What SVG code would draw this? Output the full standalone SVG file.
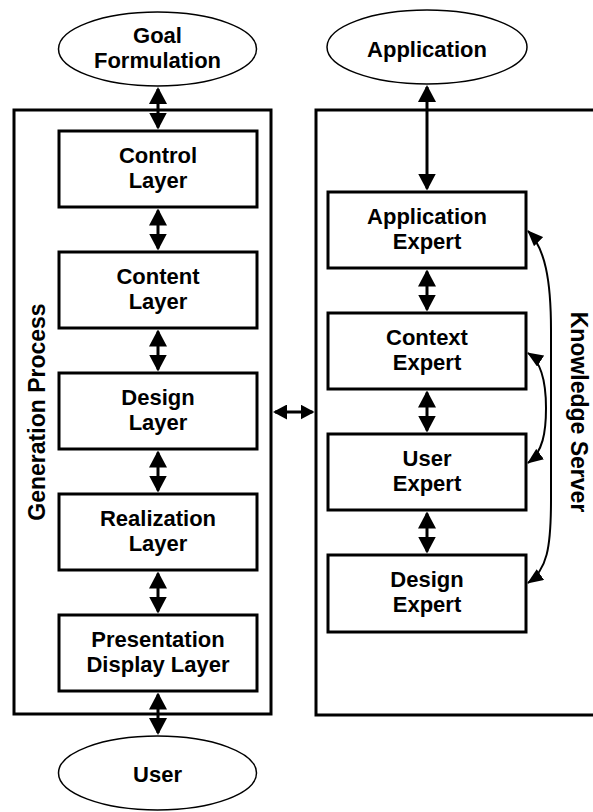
<svg xmlns="http://www.w3.org/2000/svg" width="593" height="812" viewBox="0 0 593 812">
<defs>
<style>
.box{fill:#fff;stroke:#000;stroke-width:3}
.frame{fill:none;stroke:#000;stroke-width:3}
.ell{fill:#fff;stroke:#000;stroke-width:1.5}
.t{font-family:"Liberation Sans",Arial,Helvetica,sans-serif;font-weight:bold;font-size:22px;text-anchor:middle;fill:#000}
.tr{font-size:23px}
.lnk{fill:none;stroke:#000;stroke-width:3}
.crv{fill:none;stroke:#000;stroke-width:2}
</style>
<marker id="ah" markerUnits="userSpaceOnUse" markerWidth="17" markerHeight="18" refX="15" refY="9" orient="auto-start-reverse" viewBox="0 0 17 18">
<path d="M0,0 L17,9 L0,18 z" fill="#000"/>
</marker>
<marker id="ahs" markerUnits="userSpaceOnUse" markerWidth="14" markerHeight="15" refX="12" refY="7.5" orient="auto-start-reverse" viewBox="0 0 14 15">
<path d="M0,0 L14,7.5 L0,15 z" fill="#000"/>
</marker>
<marker id="ahc" markerUnits="userSpaceOnUse" markerWidth="16" markerHeight="13" refX="15" refY="6.5" orient="auto-start-reverse" viewBox="0 0 16 13">
<path d="M0,0 L16,6.5 L0,13 z" fill="#000"/>
</marker>
</defs>
<g id="generation-process">
<rect class="frame" x="14" y="110" width="257" height="604"/>
<text class="t tr" transform="translate(45,412) rotate(-90)" x="0" y="0">Generation Process</text>
</g>
<g id="knowledge-server">
<path class="frame" d="M593,110 L316,110 L316,715 L593,715"/>
<text class="t tr" transform="translate(571,412) rotate(90)" x="0" y="0">Knowledge Server</text>
</g>
<g id="goal-formulation">
<ellipse class="ell" cx="157.5" cy="49" rx="99" ry="37"/>
<text class="t" x="157.5" y="42.5">Goal</text>
<text class="t" x="157.5" y="67.5">Formulation</text>
</g>
<g id="application">
<ellipse class="ell" cx="427" cy="47" rx="100" ry="37"/>
<text class="t" x="427" y="57">Application</text>
</g>
<g id="user">
<ellipse class="ell" cx="157.5" cy="773" rx="99" ry="37"/>
<text class="t" x="157.5" y="782">User</text>
</g>
<g id="control-layer">
<rect class="box" x="59" y="131" width="198" height="76"/>
<text class="t" x="158" y="163">Control</text>
<text class="t" x="158" y="188">Layer</text>
</g>
<g id="content-layer">
<rect class="box" x="59" y="252" width="198" height="76"/>
<text class="t" x="158" y="284">Content</text>
<text class="t" x="158" y="309">Layer</text>
</g>
<g id="design-layer">
<rect class="box" x="59" y="373" width="198" height="76"/>
<text class="t" x="158" y="405">Design</text>
<text class="t" x="158" y="430">Layer</text>
</g>
<g id="realization-layer">
<rect class="box" x="59" y="494" width="198" height="76"/>
<text class="t" x="158" y="526">Realization</text>
<text class="t" x="158" y="551">Layer</text>
</g>
<g id="presentation-display-layer">
<rect class="box" x="59" y="615" width="198" height="76"/>
<text class="t" x="158" y="647">Presentation</text>
<text class="t" x="158" y="672">Display Layer</text>
</g>
<g id="application-expert">
<rect class="box" x="328" y="192" width="198" height="76"/>
<text class="t" x="427" y="224">Application</text>
<text class="t" x="427" y="249">Expert</text>
</g>
<g id="context-expert">
<rect class="box" x="328" y="313" width="198" height="76"/>
<text class="t" x="427" y="345">Context</text>
<text class="t" x="427" y="370">Expert</text>
</g>
<g id="user-expert">
<rect class="box" x="328" y="434" width="198" height="76"/>
<text class="t" x="427" y="466">User</text>
<text class="t" x="427" y="491">Expert</text>
</g>
<g id="design-expert">
<rect class="box" x="328" y="555" width="198" height="77"/>
<text class="t" x="427" y="587">Design</text>
<text class="t" x="427" y="612">Expert</text>
</g>
<g id="connectors">
<line class="lnk" x1="158" y1="89" x2="158" y2="127.5" marker-start="url(#ah)" marker-end="url(#ah)"/>
<line class="lnk" x1="158" y1="210.5" x2="158" y2="248.5" marker-start="url(#ah)" marker-end="url(#ah)"/>
<line class="lnk" x1="158" y1="331.5" x2="158" y2="369.5" marker-start="url(#ah)" marker-end="url(#ah)"/>
<line class="lnk" x1="158" y1="452.5" x2="158" y2="490.5" marker-start="url(#ah)" marker-end="url(#ah)"/>
<line class="lnk" x1="158" y1="573.5" x2="158" y2="611.5" marker-start="url(#ah)" marker-end="url(#ah)"/>
<line class="lnk" x1="158" y1="694.5" x2="158" y2="733" marker-start="url(#ah)" marker-end="url(#ah)"/>
<line class="lnk" x1="427" y1="87" x2="427" y2="188.5" marker-start="url(#ah)" marker-end="url(#ah)"/>
<line class="lnk" x1="427" y1="271.5" x2="427" y2="309.5" marker-start="url(#ah)" marker-end="url(#ah)"/>
<line class="lnk" x1="427" y1="392.5" x2="427" y2="430.5" marker-start="url(#ah)" marker-end="url(#ah)"/>
<line class="lnk" x1="427" y1="513.5" x2="427" y2="551.5" marker-start="url(#ah)" marker-end="url(#ah)"/>
<line class="lnk" x1="275" y1="412" x2="312.5" y2="412" marker-start="url(#ahs)" marker-end="url(#ahs)"/>
<path class="crv" d="M528,231 C545,248 551,280 551,330 L551,500 C551,548 547,570 528,583" marker-start="url(#ahc)" marker-end="url(#ahc)"/>
<path class="crv" d="M528,353 C542,362 546,385 546,408 C546,432 543,452 528,463" marker-start="url(#ahc)" marker-end="url(#ahc)"/>
</g>
</svg>
